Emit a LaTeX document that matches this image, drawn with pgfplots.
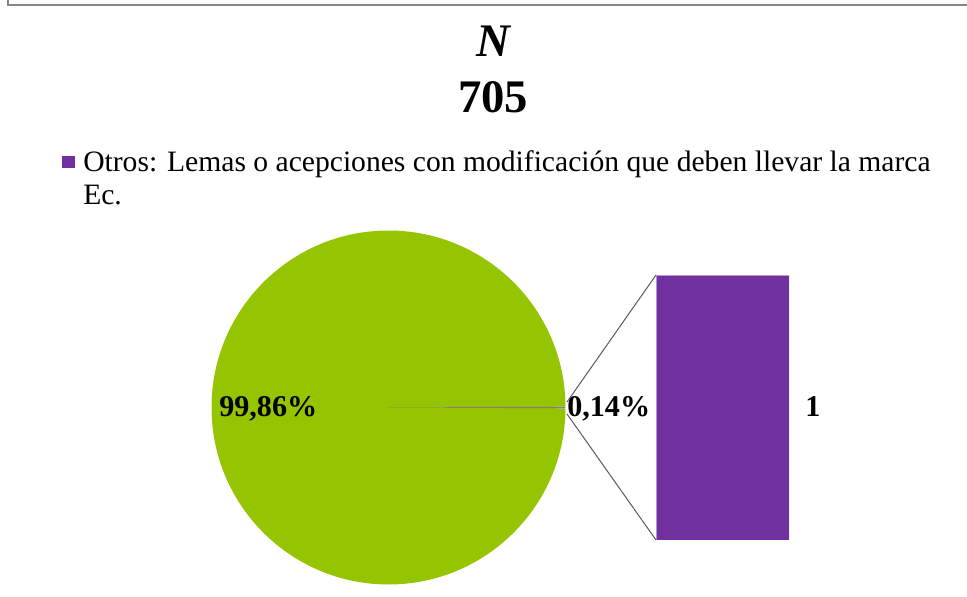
\documentclass[border=0pt]{standalone}
\usepackage{pgfplots}
\pgfplotsset{compat=1.18}
\usepackage{fontspec}
\setmainfont{Liberation Serif}
\definecolor{pgreen}{RGB}{149,197,0}
\definecolor{ppurple}{RGB}{112,48,160}
\definecolor{pedge}{RGB}{180,150,210}
\definecolor{frame}{RGB}{134,134,134}
\definecolor{sliceB}{RGB}{140,125,125}
\definecolor{conn}{RGB}{89,89,89}
\begin{document}
\begin{tikzpicture}[x=0.75pt,y=0.75pt]
% values
\def\valA{704}
\def\valB{1}
\pgfmathsetmacro{\half}{180*\valB/(\valA+\valB)}
\pgfmathsetmacro{\gstart}{\half}
\pgfmathsetmacro{\gend}{360-\half}
\pgfmathsetmacro{\sstart}{-\half}
% frame
\draw[frame, line width=1.5pt] (8,596) -- (8,591) -- (967,591);
% title
\node[anchor=base, inner sep=0, font=\fontsize{35}{40}\selectfont\bfseries\itshape] at (493,539) {N};
\node[anchor=base, inner sep=0, font=\fontsize{35}{40}\selectfont\bfseries] at (493,483) {705};
% legend
\fill[ppurple] (62,428) rectangle (75,440);
\node[anchor=base west, inner sep=0, font=\fontsize{22.2}{25}\selectfont] at (83,424) {Otros: Lemas o acepciones con modificación que deben llevar la marca};
\node[anchor=base west, inner sep=0, font=\fontsize{22.2}{25}\selectfont] at (83,391) {Ec.};
% pie
\begin{axis}[at={(291.375pt,141.375pt)}, anchor=center, scale only axis,
  width=265.5pt, height=265.5pt, hide axis,
  xmin=-1, xmax=1, ymin=-1, ymax=1]
  \addplot[draw=none] coordinates {(-1,-1) (1,1)};
  \fill[pgreen] (axis cs:0,0) -- (axis cs:{cos(\gstart)},{sin(\gstart)})
     arc[start angle=\gstart, end angle=\gend, radius=132.75pt] -- cycle;
  \fill[sliceB] (axis cs:0,0) -- (axis cs:{cos(\sstart)},{sin(\sstart)})
     arc[start angle=\sstart, end angle=\gstart, radius=132.75pt] -- cycle;
\end{axis}
% bar
\begin{axis}[at={(492pt,42pt)}, anchor=south west, scale only axis,
  width=99.75pt, height=198.75pt, hide axis,
  xmin=0.5, xmax=1.5, ymin=0, ymax=\valB, ybar, bar width=99.75pt]
  \addplot[fill=ppurple, draw=pedge, line width=0.5pt] coordinates {(1,\valB)};
\end{axis}
% connector lines
\draw[conn, line width=0.75pt] (567,194) -- (656,321);
\draw[conn, line width=0.75pt] (567,182) -- (656,56);
% data labels
\node[anchor=base west, inner sep=0, font=\fontsize{22.6}{25}\selectfont\bfseries] at (219,179) {99,86\%};
\node[anchor=base west, inner sep=0, font=\fontsize{22.6}{25}\selectfont\bfseries] at (567,179) {0,14\%};
\node[anchor=base, inner sep=0, font=\fontsize{22.6}{25}\selectfont\bfseries] at (813,179) {1};
\pgfresetboundingbox
\path[use as bounding box] (0,0) rectangle (967,596);
\end{tikzpicture}
\end{document}
